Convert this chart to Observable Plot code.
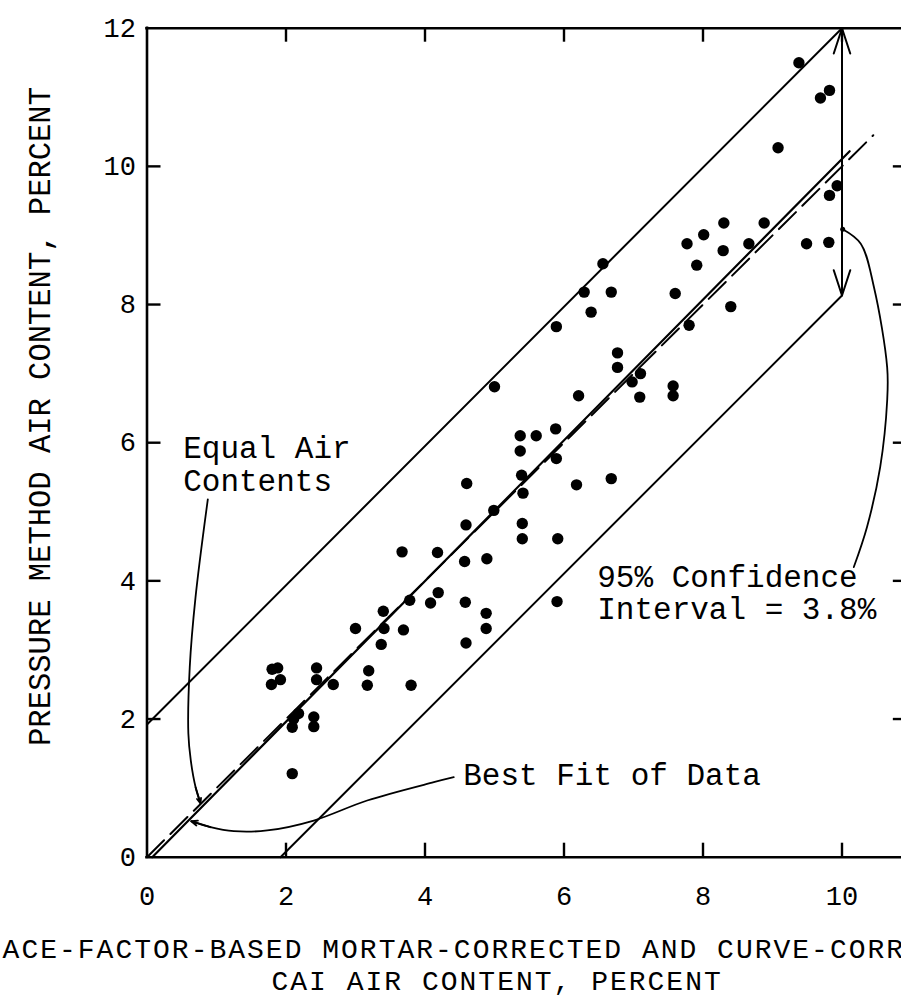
<!DOCTYPE html>
<html>
<head>
<meta charset="utf-8">
<script src="https://cdn.jsdelivr.net/npm/d3@7"></script>
<script src="https://cdn.jsdelivr.net/npm/@observablehq/plot@0.6"></script>
<style>
html, body { margin: 0; padding: 0; background: #fff; overflow: hidden; }
#chart svg { overflow: hidden; }
</style>
</head>
<body>
<div id="chart"></div>
<script>
// ---- data ----
const caiAir = [
  9.38, 9.82, 9.69, 9.08, 9.93, 9.82, 8.30, 8.88, 8.01, 7.77,
  8.29, 8.66, 9.49, 9.81, 7.91, 6.56, 6.29, 6.68, 6.39, 7.60,
  8.40, 5.89, 7.80, 6.77, 6.77, 7.10, 6.98, 7.57, 7.57, 7.09,
  6.21, 5.88, 5.60, 5.37, 5.37, 5.89, 4.60, 5.39, 5.41, 6.18,
  6.68, 4.99, 4.59, 5.40, 5.40, 5.91, 3.67, 4.18, 4.57, 4.89,
  5.00, 4.19, 3.78, 4.08, 4.58, 5.90, 3.40, 4.88, 4.88, 3.41,
  3.69, 4.59, 3.00, 3.37, 1.80, 1.88, 1.92, 1.79, 2.44, 2.44,
  2.68, 3.19, 3.17, 3.80, 2.18, 2.11, 2.09, 2.40, 2.40, 2.09
];
const pressureAir = [
  11.50, 11.10, 10.99, 10.27, 9.72, 9.58, 9.18, 9.18, 9.01, 8.88,
  8.78, 8.88, 8.88, 8.90, 8.57, 8.59, 8.18, 8.18, 7.89, 8.16,
  7.97, 7.68, 7.70, 7.30, 7.09, 7.00, 6.88, 6.82, 6.68, 6.66,
  6.68, 6.20, 6.10, 6.10, 5.88, 5.77, 5.41, 5.53, 5.27, 5.39,
  5.48, 5.02, 4.81, 4.83, 4.61, 4.61, 4.42, 4.41, 4.28, 4.32,
  6.81, 3.83, 3.72, 3.68, 3.69, 3.70, 3.56, 3.53, 3.31, 3.31,
  3.29, 3.10, 3.31, 3.08, 2.72, 2.74, 2.57, 2.50, 2.74, 2.57,
  2.50, 2.70, 2.49, 2.49, 2.08, 2.00, 1.88, 2.03, 1.89, 1.21
];

// reference lines
const bestFitX = [0.075, 10.11], bestFitY = [0, 10.22];
const upperX = [0, 10], upperY = [1.92, 12.0];
const lowerX = [1.92, 10], lowerY = [0, 8.13];
const equalX = [0, 10.45], equalY = [0, 10.45];

// confidence interval arrow
const intervalX = 10, intervalLow = 8.13, intervalHigh = 12.0;

// leader curves
const equalLeadX = [0.875, 0.698, 0.615, 0.595, 0.630, 0.700, 0.770];
const equalLeadY = [5.18, 3.76, 2.75, 1.79, 1.40, 1.01, 0.78];
const fitLeadX = [4.414, 4.127, 3.168, 2.400, 1.729, 1.249, 0.914, 0.636];
const fitLeadY = [1.158, 1.086, 0.821, 0.531, 0.387, 0.376, 0.434, 0.521];
const confLeadX = [10.01, 10.27, 10.46, 10.65, 10.65, 10.55, 10.36, 10.17];
const confLeadY = [9.09, 8.88, 8.25, 7.09, 6.61, 5.65, 4.78, 4.20];

// annotation labels
const noteText = ["Equal Air\nContents", "95% Confidence\nInterval = 3.8%", "Best Fit of Data"];
const noteX = [0.521, 6.478, 4.55];
const noteY = [5.308, 3.451, 1.052];

// axes
const xMax = 10.94, yMax = 12;
const xTickLabels = [0, 2, 4, 6, 8, 10];
const yTickLabels = [0, 2, 4, 6, 8, 10, 12];
const xInnerTicks = [2, 4, 6, 8, 10];
const yInnerTicks = [2, 4, 6, 8, 10];
const yTitle = "PRESSURE METHOD AIR CONTENT, PERCENT";
const xTitle1 = "CHACE-FACTOR-BASED MORTAR-CORRECTED AND CURVE-CORRECTED";
const xTitle2 = "CAI AIR CONTENT, PERCENT";

// ---- build ----
const pts = (xs, ys) => xs.map((x, i) => ({x, y: ys[i]}));
const points = pts(caiAir, pressureAir);
const notes = noteText.map((t, i) => ({t, x: noteX[i], y: noteY[i]}));
const headOf = (xs, ys) => {
  const n = xs.length;
  return [{x1: xs[n - 2], y1: ys[n - 2], x2: xs[n - 1], y2: ys[n - 1]}];
};
const intervalMid = (intervalLow + intervalHigh) / 2;
const intervalArrows = [
  {x1: intervalX, y1: intervalMid, x2: intervalX, y2: intervalHigh},
  {x1: intervalX, y1: intervalMid, x2: intervalX, y2: intervalLow}
];

const FONT = "Liberation Mono, Courier New, monospace";
const ML = 146.5, MT = 27.7, MB = 150.3, PXU = 69.5;

const chart = Plot.plot({
  width: 901,
  height: 1007,
  marginLeft: ML,
  marginRight: 0,
  marginTop: MT,
  marginBottom: MB,
  x: {domain: [0, xMax], range: [ML, ML + xMax * PXU], axis: null},
  y: {domain: [0, yMax], axis: null},
  style: {fontFamily: FONT, background: "white", color: "black", overflow: "hidden"},
  marks: [
    // frame
    Plot.ruleY([0, yMax], {stroke: "black", strokeWidth: 2.6, strokeLinecap: "square"}),
    Plot.ruleX([0, xMax], {stroke: "black", strokeWidth: 2.6, strokeLinecap: "square"}),
    // inward ticks
    Plot.ruleX(xInnerTicks, {x: d => d, y1: () => 0, y2: () => 0, insetBottom: 14, stroke: "black", strokeWidth: 2.4}),
    Plot.ruleX(xInnerTicks, {x: d => d, y1: () => yMax, y2: () => yMax, insetTop: 14, stroke: "black", strokeWidth: 2.4}),
    Plot.ruleY(yInnerTicks, {y: d => d, x1: () => 0, x2: () => 0, insetLeft: 14, stroke: "black", strokeWidth: 2.4}),
    Plot.ruleY(yInnerTicks, {y: d => d, x1: () => xMax, x2: () => xMax, insetRight: 14, stroke: "black", strokeWidth: 2.4}),
    // tick labels
    Plot.text(xTickLabels, {x: d => d, y: () => 0, text: d => String(d), dy: 39, fontSize: 27, lineAnchor: "middle", fontFamily: FONT}),
    Plot.text(yTickLabels, {x: () => 0, y: d => d, text: d => String(d), dx: -11, textAnchor: "end", fontSize: 27, lineAnchor: "middle", fontFamily: FONT}),
    // axis titles
    Plot.text([yTitle], {frameAnchor: "left", text: d => d, rotate: -90, dx: 40 - ML, dy: 416 - (MT + 856.7) / 2, fontSize: 30.5, lineAnchor: "middle", textAnchor: "middle", fontFamily: FONT}),
    Plot.text([xTitle1], {frameAnchor: "bottom-left", text: d => d, textAnchor: "start", lineAnchor: "bottom", dx: -35.5 - ML, dy: 957 - 856.7, fontSize: 28, fontFamily: FONT}),
    Plot.text([xTitle2], {frameAnchor: "bottom-left", text: d => d, textAnchor: "start", lineAnchor: "bottom", dx: 271 - ML, dy: 989.5 - 856.7, fontSize: 28, fontFamily: FONT}),
    // reference lines
    Plot.line(pts(upperX, upperY), {x: "x", y: "y", stroke: "black", strokeWidth: 2}),
    Plot.line(pts(lowerX, lowerY), {x: "x", y: "y", stroke: "black", strokeWidth: 2}),
    Plot.line(pts(bestFitX, bestFitY), {x: "x", y: "y", stroke: "black", strokeWidth: 2.2}),
    Plot.line(pts(equalX, equalY), {x: "x", y: "y", stroke: "black", strokeWidth: 2, strokeDasharray: "24,9"}),
    // data
    Plot.dot(points, {x: "x", y: "y", r: 5.7, fill: "black"}),
    // confidence interval arrow
    Plot.arrow(intervalArrows, {x1: "x1", y1: "y1", x2: "x2", y2: "y2", stroke: "black", strokeWidth: 2, headLength: 20, headAngle: 36}),
    // leaders
    Plot.line(pts(equalLeadX, equalLeadY), {x: "x", y: "y", curve: "catmull-rom", stroke: "black", strokeWidth: 1.8}),
    Plot.arrow(headOf(equalLeadX, equalLeadY), {x1: "x1", y1: "y1", x2: "x2", y2: "y2", stroke: "black", strokeWidth: 1.8, headLength: 18, headAngle: 45}),
    Plot.line(pts(fitLeadX, fitLeadY), {x: "x", y: "y", curve: "catmull-rom", stroke: "black", strokeWidth: 1.8}),
    Plot.arrow(headOf(fitLeadX, fitLeadY), {x1: "x1", y1: "y1", x2: "x2", y2: "y2", stroke: "black", strokeWidth: 1.8, headLength: 18, headAngle: 45}),
    Plot.line(pts(confLeadX, confLeadY), {x: "x", y: "y", curve: "catmull-rom", stroke: "black", strokeWidth: 1.8}),
    Plot.dot([{x: confLeadX[0], y: confLeadY[0]}], {x: "x", y: "y", r: 2.5, fill: "black"}),
    // annotation text
    Plot.text(notes, {x: "x", y: "y", text: "t", textAnchor: "start", lineAnchor: "bottom", lineHeight: 1.04, fontSize: 31, fontFamily: FONT})
  ]
});
// widen the x-axis title lines to the typewriter pitch of the reference
d3.select(chart).selectAll("text")
  .filter(function () { return this.textContent === xTitle1 || this.textContent === xTitle2; })
  .style("letter-spacing", "2px");
document.getElementById("chart").append(chart);
</script>
</body>
</html>
